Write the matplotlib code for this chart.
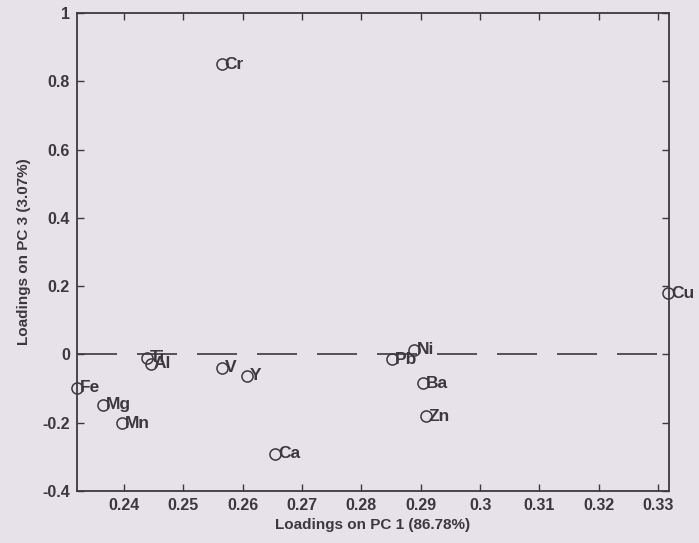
import matplotlib.pyplot as plt

plt.rcParams['font.family'] = ['Liberation Sans', 'DejaVu Sans']
plt.rcParams['font.weight'] = 'bold'
plt.rcParams['axes.labelweight'] = 'bold'

# PCA loadings of the elements
elements = ['Fe', 'Mg', 'Mn', 'Ti', 'Al', 'Cr', 'V', 'Y', 'Ca', 'Pb', 'Ni', 'Ba', 'Zn', 'Cu']
pc1 = [0.2322, 0.2365, 0.2397, 0.2439, 0.2446, 0.2565, 0.2566, 0.2608, 0.2655,
       0.2852, 0.2889, 0.2904, 0.2909, 0.3317]
pc3 = [-0.098, -0.147, -0.202, -0.010, -0.028, 0.850, -0.040, -0.063, -0.291,
       -0.014, 0.014, -0.084, -0.182, 0.179]

xticks = [0.24, 0.25, 0.26, 0.27, 0.28, 0.29, 0.30, 0.31, 0.32, 0.33]
xtick_labels = ['0.24', '0.25', '0.26', '0.27', '0.28', '0.29', '0.3', '0.31', '0.32', '0.33']
yticks = [-0.4, -0.2, 0, 0.2, 0.4, 0.6, 0.8, 1]
ytick_labels = ['-0.4', '-0.2', '0', '0.2', '0.4', '0.6', '0.8', '1']

ink = '#3b393d'
paper = '#e7e1e9'

fig = plt.figure(figsize=(6.99, 5.43), dpi=100, facecolor=paper)
ax = fig.add_axes([0.110, 0.096, 0.847, 0.880], facecolor=paper)

ax.axhline(0, color=ink, lw=1.2, dashes=(24, 12))
ax.plot(pc1, pc3, 'o', mfc='none', mec=ink, ms=8, mew=1.1, clip_on=False)
for name, x, y in zip(elements, pc1, pc3):
    ax.annotate(name, (x, y), xytext=(2, 0), textcoords='offset points',
                va='center', ha='left', fontsize=12.5, color=ink,
                annotation_clip=False)

ax.set_xlim(0.2321, 0.3318)
ax.set_ylim(-0.4, 1)
ax.set_xticks(xticks)
ax.set_xticklabels(xtick_labels)
ax.set_yticks(yticks)
ax.set_yticklabels(ytick_labels)
ax.tick_params(direction='in', top=True, right=True, length=5, width=1,
               color=ink, labelcolor=ink, labelsize=11.5, pad=5)
for s in ax.spines.values():
    s.set_color(ink)
    s.set_linewidth(1.3)

ax.set_xlabel('Loadings on PC 1 (86.78%)', fontsize=11, color=ink, labelpad=4)
ax.set_ylabel('Loadings on PC 3 (3.07%)', fontsize=11, color=ink, labelpad=8)

fig.savefig('out.png', dpi=100, facecolor=paper)
